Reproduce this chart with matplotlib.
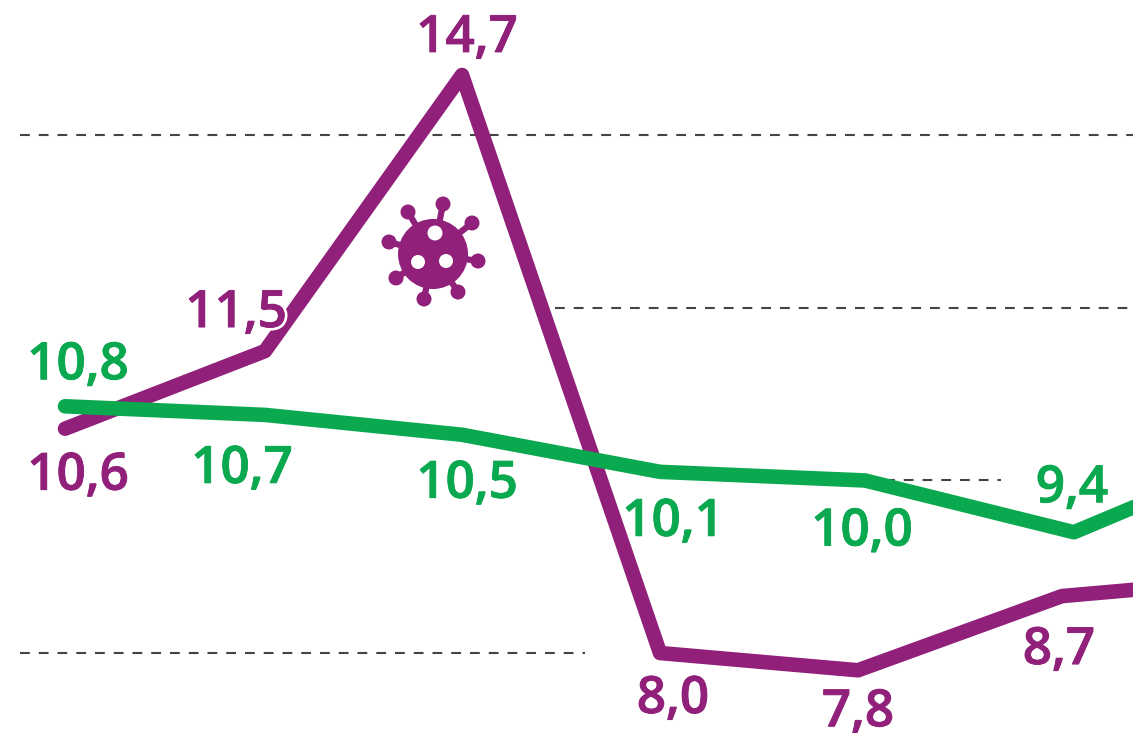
import numpy as np
import matplotlib.pyplot as plt
from matplotlib.patches import Circle
from matplotlib.transforms import Affine2D
import matplotlib.patheffects as pe

plt.rcParams['font.family'] = ['Open Sans', 'DejaVu Sans']

# series (last point runs off the right edge)
x_purple = [0, 1.005, 1.995, 2.99, 3.985, 5.01, 6]
y_purple = [10.6, 11.5, 14.7, 8.0, 7.8, 8.66, 8.86]
x_green = [0, 1.005, 1.995, 2.99, 4.02, 5.07, 6]
y_green = [10.86, 10.76, 10.53, 10.1, 10.0, 9.4, 10.3]

labels_purple = ['10,6', '11,5', '14,7', '8,0', '7,8', '8,7']
labels_green = ['10,8', '10,7', '10,5', '10,1', '10,0', '9,4']

# label offsets from their point, pixels
offs_purple = [(13, -61), (-29, 24), (5, 23), (13, -60), (0, -56), (-3, -68)]
offs_green = [(13, 27), (-23, -68), (5, -63), (13, -64), (-3, -65), (-2, 30)]

grid_values = [14, 12, 10, 8]
grid_spans = [(20, 1133), (555, 1133), (885, 1001), (20, 585)]

PURPLE = '#91207a'
GREEN = '#0aa84f'
W, H = 1133, 733

fig = plt.figure(figsize=(W / 100, H / 100), dpi=100)
ax = fig.add_axes([0, 0, 1, 1])
ax.set_xlim(-65 / 199, (W - 65) / 199)
ax.set_ylim(8 - 80 / 86.3, 14.7 + 75 / 86.3)
ax.axis('off')

# pixel coords, y down, for things that are not data
px = Affine2D().scale(1 / W, -1 / H).translate(0, 1) + ax.transAxes
blend = ax.get_yaxis_transform()

for val, (x0, x1) in zip(grid_values, grid_spans):
    ax.plot([x0 / W, x1 / W], [val, val], transform=blend, color='#444444',
            lw=1.5, dashes=(4.7, 4.3), zorder=1)

ax.plot(x_purple, y_purple, color=PURPLE, lw=10.5, solid_capstyle='round',
        solid_joinstyle='round', zorder=2)
ax.plot(x_green, y_green, color=GREEN, lw=10.5, solid_capstyle='round',
        solid_joinstyle='round', zorder=3)

i = 0
for lab, xv, yv, off in zip(labels_purple, x_purple, y_purple, offs_purple):
    t = ax.annotate(lab, (xv, yv), xytext=off, textcoords='offset pixels', ha='center',
                    va='baseline', fontsize=37, fontweight=600, color=PURPLE, zorder=4)
    effects = [pe.Stroke(linewidth=0.6, foreground=PURPLE), pe.Normal()]
    if i == 1:
        # white halo where the 5 touches the line
        effects.insert(0, pe.Stroke(linewidth=4.5, foreground='white'))
    t.set_path_effects(effects)
    i += 1
for lab, xv, yv, off in zip(labels_green, x_green, y_green, offs_green):
    t = ax.annotate(lab, (xv, yv), xytext=off, textcoords='offset pixels', ha='center',
                    va='baseline', fontsize=37, fontweight=600, color=GREEN, zorder=4)
    t.set_path_effects([pe.Stroke(linewidth=0.6, foreground=GREEN), pe.Normal()])

# virus icon
cx, cy = 433, 254
ax.add_patch(Circle((cx, cy), 35, transform=px, color=PURPLE, lw=0, zorder=5))
knobs = [(443, 204), (408, 212), (389, 242), (396, 278), (424, 299), (458, 292), (478, 261), (472, 223)]
for kx, ky in knobs:
    ax.plot([cx, kx], [cy, ky], transform=px, color=PURPLE, lw=4.5, zorder=5)
    ax.add_patch(Circle((kx, ky), 7.5, transform=px, color=PURPLE, lw=0, zorder=5))
for hx, hy, r in [(435, 233, 7.5), (418, 262, 7), (446, 261, 7)]:
    ax.add_patch(Circle((hx, hy), r, transform=px, color='white', lw=0, zorder=6))

fig.savefig('out.png', dpi=100)
